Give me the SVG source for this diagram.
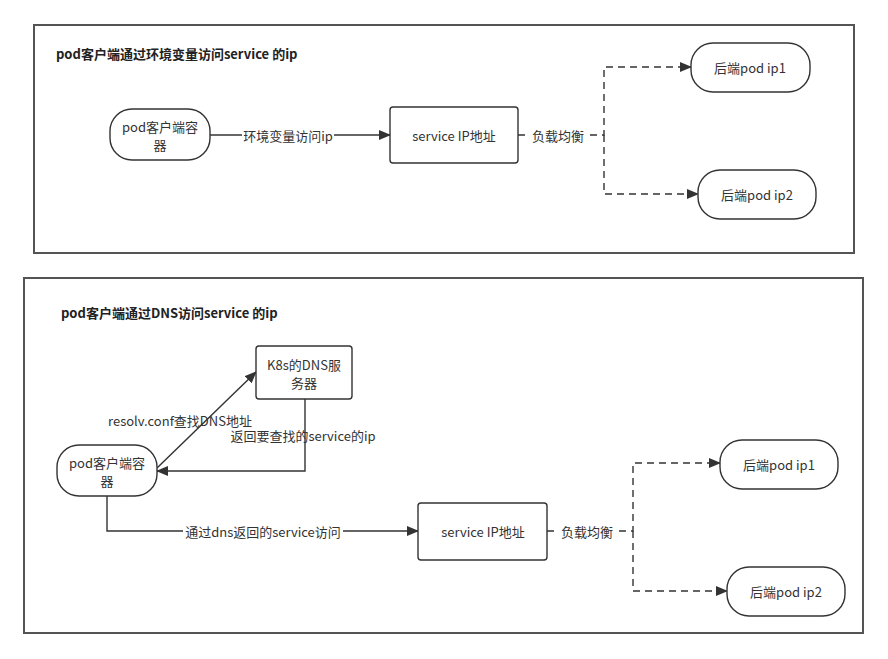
<svg xmlns="http://www.w3.org/2000/svg" width="888" height="659" viewBox="0 0 888 659">
<style>
.frame{fill:#fff;stroke:#545454;stroke-width:2}
.node{fill:#fff;stroke:#333;stroke-width:1.4}
.t{font-family:"Noto Sans CJK SC","Microsoft YaHei",sans-serif;font-size:13px;fill:#333;text-anchor:middle;dominant-baseline:central}
.title{font-family:"Noto Sans CJK SC","Microsoft YaHei",sans-serif;font-size:13px;font-weight:bold;fill:#222;dominant-baseline:central}
.line{fill:none;stroke:#333;stroke-width:1.4}
.dash{fill:none;stroke:#333;stroke-width:1.4;stroke-dasharray:7 5}
.bg{fill:#fff}
</style>
<defs>
<marker id="arr" markerUnits="userSpaceOnUse" markerWidth="12" markerHeight="10" viewBox="0 0 12 10" refX="11" refY="5" orient="auto">
<path d="M0,0 L12,5 L0,10 Z" fill="#333"/>
</marker>
</defs>
<rect width="888" height="659" fill="#fff"/>
<g id="panel1">
<rect class="frame" x="34" y="25" width="820" height="228"/>
<text class="title" x="56" y="53">pod客户端通过环境变量访问service 的ip</text>
</g>
<g id="panel2">
<rect class="frame" x="24" y="278" width="839" height="355"/>
<text class="title" x="61" y="312">pod客户端通过DNS访问service 的ip</text>
</g>
<g id="connectors">
<path class="line" d="M210,135 H390" marker-end="url(#arr)"/>
<rect class="bg" x="242" y="126" width="92" height="18"/>
<text class="t" x="288" y="135">环境变量访问ip</text>
<path class="dash" d="M518,135 H604 V67 H691" marker-end="url(#arr)"/>
<path class="dash" d="M604,135 V194 H698" marker-end="url(#arr)"/>
<rect class="bg" x="529" y="126" width="58" height="18"/>
<text class="t" x="558" y="135">负载均衡</text>
<path class="line" d="M157,468 L256,372" marker-end="url(#arr)"/>
<text class="t" x="180" y="420">resolv.conf查找DNS地址</text>
<path class="line" d="M305,399 V471 H157" marker-end="url(#arr)"/>
<text class="t" x="303" y="435">返回要查找的service的ip</text>
<path class="line" d="M107,496 V531 H418" marker-end="url(#arr)"/>
<rect class="bg" x="183" y="522" width="160" height="18"/>
<text class="t" x="263" y="531">通过dns返回的service访问</text>
<path class="dash" d="M547,531 H633 V463 H720" marker-end="url(#arr)"/>
<path class="dash" d="M633,531 V591 H727" marker-end="url(#arr)"/>
<rect class="bg" x="558" y="522" width="58" height="18"/>
<text class="t" x="587" y="531">负载均衡</text>
</g>
<g id="pod-client-1">
<rect class="node" x="110" y="109" width="100" height="51" rx="22"/>
<text class="t" x="160" y="126">pod客户端容</text>
<text class="t" x="160" y="144">器</text>
</g>
<g id="service-ip-1">
<rect class="node" x="390" y="107" width="128" height="56" rx="3"/>
<text class="t" x="454" y="135">service IP地址</text>
</g>
<g id="backend-ip1-1">
<rect class="node" x="691" y="43" width="119" height="49" rx="22"/>
<text class="t" x="750" y="67">后端pod ip1</text>
</g>
<g id="backend-ip2-1">
<rect class="node" x="698" y="170" width="118" height="49" rx="22"/>
<text class="t" x="757" y="194">后端pod ip2</text>
</g>
<g id="dns-server">
<rect class="node" x="256" y="346" width="96" height="53" rx="3"/>
<text class="t" x="304" y="364">K8s的DNS服</text>
<text class="t" x="304" y="382">务器</text>
</g>
<g id="pod-client-2">
<rect class="node" x="57" y="445" width="100" height="51" rx="22"/>
<text class="t" x="107" y="462">pod客户端容</text>
<text class="t" x="107" y="480">器</text>
</g>
<g id="service-ip-2">
<rect class="node" x="418" y="503" width="129" height="57" rx="3"/>
<text class="t" x="483" y="531">service IP地址</text>
</g>
<g id="backend-ip1-2">
<rect class="node" x="720" y="440" width="118" height="49" rx="22"/>
<text class="t" x="779" y="464">后端pod ip1</text>
</g>
<g id="backend-ip2-2">
<rect class="node" x="727" y="567" width="118" height="49" rx="22"/>
<text class="t" x="786" y="591">后端pod ip2</text>
</g>
</svg>
